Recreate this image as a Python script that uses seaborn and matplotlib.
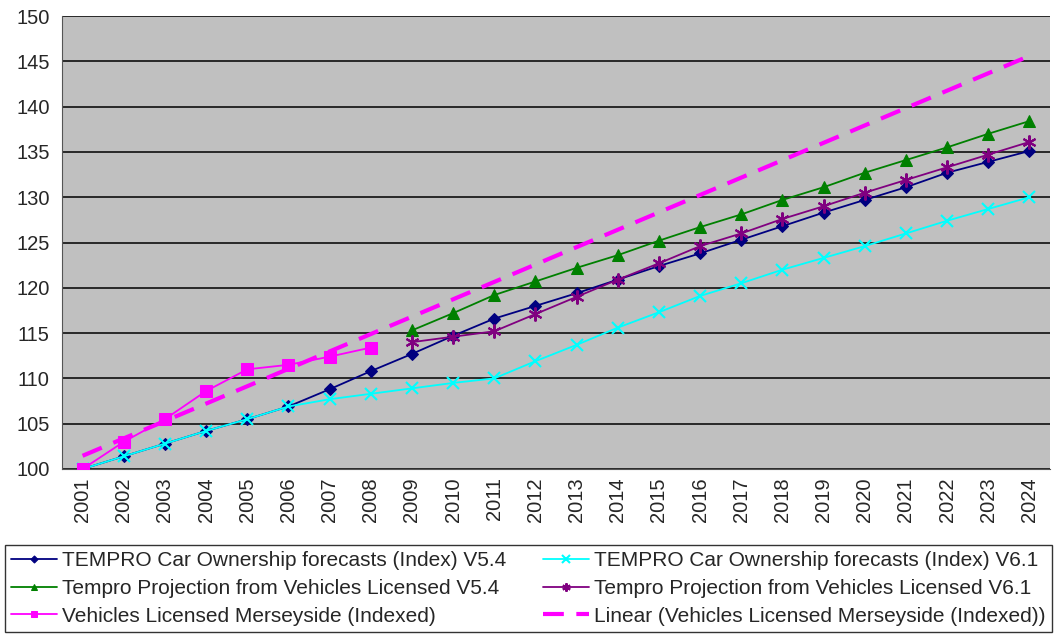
import numpy as np
import pandas as pd
import seaborn as sns
import matplotlib
matplotlib.use("Agg")
import matplotlib.pyplot as plt
from matplotlib.ticker import FixedLocator

years = list(range(2001, 2025))

tempro_v54 = [100.0, 101.4, 102.8, 104.2, 105.5, 106.9, 108.8, 110.8, 112.7, 114.7,
              116.6, 118.0, 119.4, 120.9, 122.4, 123.8, 125.3, 126.8, 128.3, 129.7,
              131.1, 132.7, 133.9, 135.1]
tempro_v61 = [100.0, 101.4, 102.8, 104.2, 105.5, 106.9, 107.7, 108.3, 108.9, 109.5,
              110.0, 111.9, 113.7, 115.6, 117.3, 119.1, 120.5, 122.0, 123.3, 124.6,
              126.0, 127.4, 128.7, 130.0]
proj_years = list(range(2009, 2025))
proj_v54 = [115.3, 117.2, 119.2, 120.7, 122.2, 123.6, 125.2, 126.7, 128.1, 129.7,
            131.1, 132.7, 134.1, 135.5, 137.0, 138.4]
proj_v61 = [114.0, 114.6, 115.2, 117.1, 119.0, 120.9, 122.7, 124.6, 126.0, 127.6,
            129.0, 130.5, 131.9, 133.3, 134.7, 136.1]
lic_years = list(range(2001, 2009))
licensed = [100.0, 103.0, 105.5, 108.6, 111.0, 111.5, 112.4, 113.4]

labels = [
    "TEMPRO Car Ownership forecasts (Index) V5.4",
    "TEMPRO Car Ownership forecasts (Index) V6.1",
    "Tempro Projection from Vehicles Licensed V5.4",
    "Tempro Projection from Vehicles Licensed V6.1",
    "Vehicles Licensed Merseyside (Indexed)",
    "Linear (Vehicles Licensed Merseyside (Indexed))",
]

sns.set_style("white")
plt.rcParams["font.family"] = ["Liberation Sans", "DejaVu Sans"]
plt.rcParams["font.size"] = 14

fig = plt.figure(figsize=(10.57, 6.35), dpi=100)
ax = fig.add_axes([62 / 1057, 1 - 469 / 635, 988 / 1057, 453 / 635])
ax.set_facecolor("#C0C0C0")

pos = {y: i for i, y in enumerate(years)}

def frame(xs, vals):
    return pd.DataFrame({"x": [pos[y] for y in xs], "v": vals})

# Linear trend of the licensed series, extended over the full horizon
coef = np.polyfit([pos[y] for y in lic_years], licensed, 1)
trend = np.polyval(coef, np.arange(len(years)))

sns.lineplot(data=frame(years, tempro_v54), x="x", y="v", ax=ax, color="#000080",
             marker="D", markersize=6, lw=1.3, markeredgecolor="#000080", zorder=4)
sns.lineplot(data=frame(years, tempro_v61), x="x", y="v", ax=ax, color="#00FFFF",
             marker="x", markersize=9, mew=1.5, lw=1.3, markeredgecolor="#00FFFF", zorder=5)
sns.lineplot(data=frame(proj_years, proj_v54), x="x", y="v", ax=ax, color="#008000",
             marker="^", markersize=8, lw=1.3, markeredgecolor="#008000", zorder=4)
sns.lineplot(data=frame(proj_years, proj_v61), x="x", y="v", ax=ax, color="#800080",
             marker=(6, 2, 0), markersize=10, mew=1.5, lw=1.3, markeredgecolor="#800080", zorder=4)
sns.lineplot(data=frame(lic_years, licensed), x="x", y="v", ax=ax, color="#FF00FF",
             marker="s", markersize=8, lw=1.3, markeredgecolor="#FF00FF", zorder=6)
sns.lineplot(data=pd.DataFrame({"x": np.arange(len(years)), "v": trend}), x="x", y="v", ax=ax,
             color="#FF00FF", lw=3, dashes=(5, 3), zorder=3)

lines = ax.get_lines()
order = [0, 2, 4, 1, 3, 5]
ax.set_xlim(-0.5, len(years) - 0.5)
ax.set_ylim(100, 150)
ax.set_yticks(np.arange(100, 151, 5))
ax.yaxis.grid(True, color="black", lw=1.1)
ax.set_axisbelow(True)
ax.set_xticks(range(len(years)))
ax.set_xticklabels([str(y) for y in years], rotation=90)
ax.xaxis.set_minor_locator(FixedLocator(np.arange(-0.5, len(years), 1)))
ax.tick_params(axis="x", which="major", length=0, pad=6, labelsize=14.5)
ax.tick_params(axis="x", which="minor", length=6, color="black", width=1, direction="out")
ax.tick_params(axis="y", length=6, color="#555555", width=1, direction="out", labelsize=14.5, pad=3)
ax.set_xlabel("")
ax.set_ylabel("")
for s in ["top", "right"]:
    ax.spines[s].set_visible(False)
ax.spines["left"].set_color("#555555")
ax.spines["bottom"].set_color("#555555")

leg = fig.legend([lines[i] for i in order], [labels[i] for i in order], ncol=2,
                 loc="lower left", bbox_to_anchor=(5 / 1057, 3 / 635, 1047 / 1057, 87 / 635),
                 mode="expand", frameon=True, fancybox=False, edgecolor="black",
                 fontsize=15.0, handlelength=2.2, handletextpad=0.25, labelspacing=0.42,
                 borderaxespad=0, borderpad=0.3, columnspacing=1.0, markerscale=0.6)
leg.get_frame().set_linewidth(1)

fig.savefig("out.png", dpi=100)
